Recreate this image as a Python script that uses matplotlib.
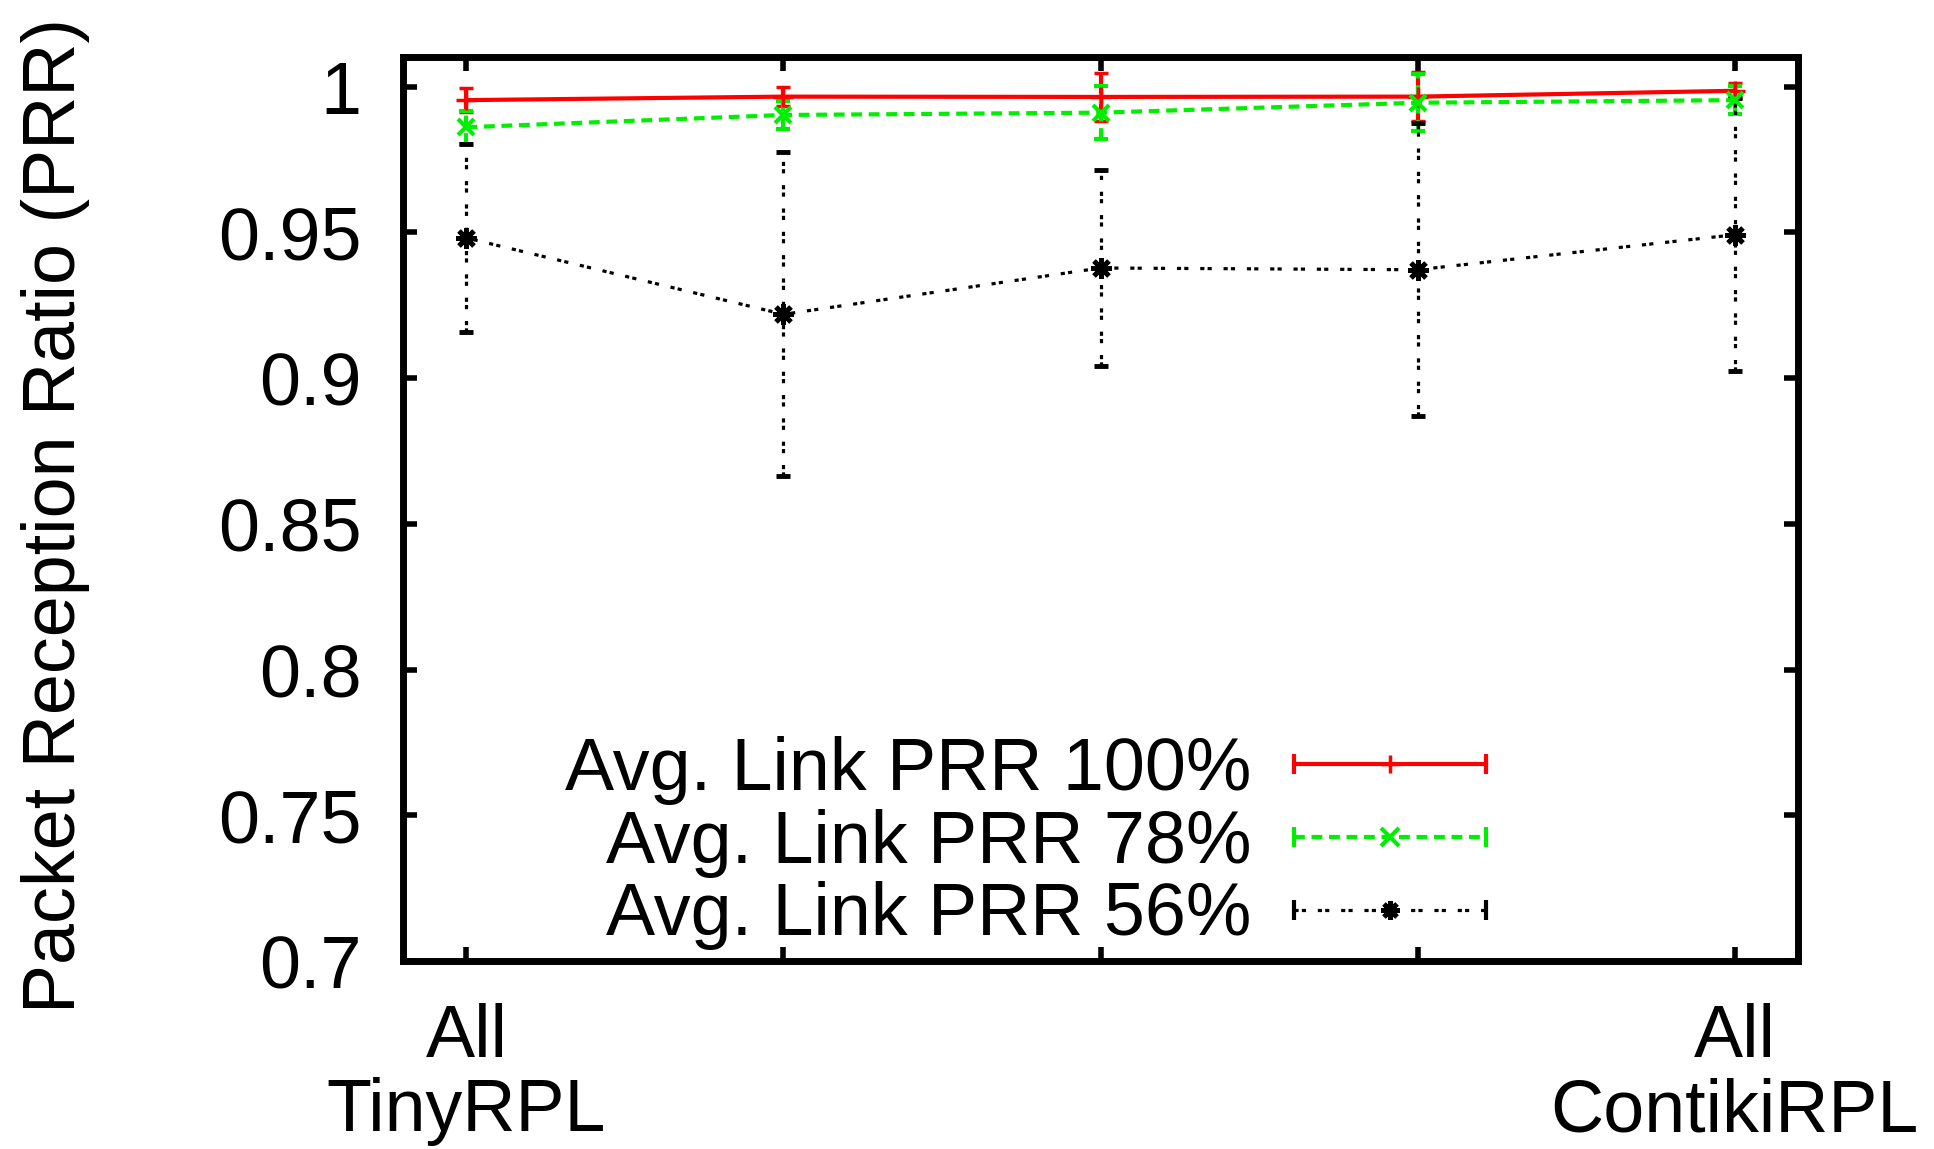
import matplotlib.pyplot as plt
from matplotlib.lines import Line2D
from matplotlib.legend_handler import HandlerLine2D

# PRR per configuration
configs = [1, 2, 3, 4, 5]
tick_labels = ["All\nTinyRPL", "", "", "", "All\nContikiRPL"]

prr100_mean = [0.9954, 0.9966, 0.9965, 0.9966, 0.9986]
prr100_err = [0.0042, 0.0033, 0.0081, 0.0085, 0.0026]
prr78_mean = [0.9861, 0.9903, 0.9911, 0.9945, 0.9954]
prr78_err = [0.0057, 0.0048, 0.0091, 0.0097, 0.0048]
prr56_mean = [0.9481, 0.9219, 0.9378, 0.9372, 0.9492]
prr56_err = [0.0324, 0.0556, 0.0335, 0.0503, 0.0468]
labels = ['Avg. Link PRR 100%', 'Avg. Link PRR 78%', 'Avg. Link PRR 56%']

plt.rcParams['font.family'] = ['Liberation Sans', 'DejaVu Sans']
FS = 53

fig = plt.figure(figsize=(19.34, 11.49), dpi=100)
ax = fig.add_axes([0.2084, 0.1636, 0.7213, 0.7868])

dashed = (0, (2.6, 1.6))
dotted = (0, (1.3, 1.0, 1.3, 3.7))
star = (8, 2, 0)

e1 = ax.errorbar(configs, prr100_mean, yerr=prr100_err, color='#ff0000', lw=3,
                 marker='+', ms=14, mew=2.5, capsize=5, capthick=3)
e2 = ax.errorbar(configs, prr78_mean, yerr=prr78_err, color='#00ee00', lw=3,
                 ls=dashed, marker='x', ms=12, mew=3, capsize=5, capthick=3)
e2[2][0].set_linestyle(dashed)
e3 = ax.errorbar(configs, prr56_mean, yerr=prr56_err, color='black', lw=2.3,
                 ls=dotted, marker=star, ms=15, mew=3.5, capsize=5, capthick=2)
e3[2][0].set_linestyle(dotted)

ax.set_xlim(0.8, 5.2)
ax.set_ylim(0.7, 1.0102)
ax.set_xticks(configs)
ax.set_xticklabels(tick_labels, fontsize=FS, linespacing=1.1)
ax.set_yticks([0.7, 0.75, 0.8, 0.85, 0.9, 0.95, 1.0])
ax.set_yticklabels(['0.7', '0.75', '0.8', '0.85', '0.9', '0.95', '1'], fontsize=FS)
ax.tick_params(direction='in', top=True, right=True, length=10, width=4)
ax.tick_params(axis='y', pad=30)
ax.tick_params(axis='x', pad=30)
for s in ax.spines.values():
    s.set_linewidth(5)

ax.set_ylabel('Packet Reception Ratio (PRR)', fontsize=FS, va='center')
ax.yaxis.set_label_coords(-0.249, 0.493)

# legend samples in gnuplot style: caps at both ends, marker in the middle
styles = [('#ff0000', '-', 3, '+', 2.5), ('#00ee00', dashed, 3, 'x', 3),
          ('black', dotted, 2.3, star, 3.5)]
handles = []
hmap = {}
for color, ls, lw, mk, mw in styles:
    caps = Line2D([], [], color=color, ls=ls, lw=lw, marker='|', ms=14, mew=3)
    mid = Line2D([], [], color=color, ls='none', marker=mk, ms=13, mew=mw)
    hmap[caps] = HandlerLine2D(numpoints=2, marker_pad=0)
    hmap[mid] = HandlerLine2D(numpoints=1)
    handles.append((caps, mid))

ax.legend(handles, labels, handler_map=hmap, loc='lower right',
          bbox_to_anchor=(0.8025, -0.029), frameon=False, fontsize=FS,
          markerfirst=False, handlelength=2.6, handletextpad=0.58,
          labelspacing=0.05, borderpad=0.0)

fig.savefig('out.png', dpi=100)
